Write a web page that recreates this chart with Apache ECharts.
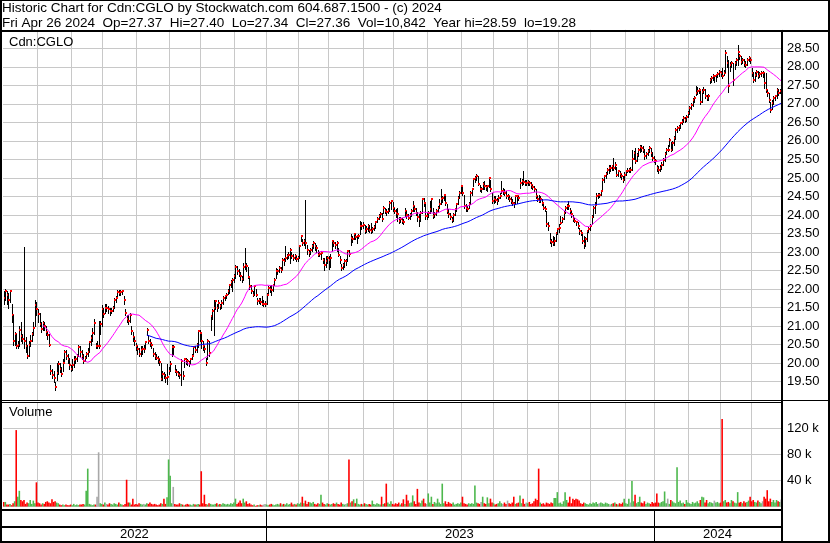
<!DOCTYPE html>
<html><head><meta charset="utf-8">
<script src="https://cdn.jsdelivr.net/npm/echarts@6/dist/echarts.min.js"></script>
<style>html,body{margin:0;padding:0;background:#fff}#c{width:830px;height:543px}</style>
</head><body><div id="c"></div>
<script>
// ---------- DATA ----------
const firstDay = '2022-04-29';
const lastDay = '2024-04-26';
const holidays = ['2022-05-23','2022-07-01','2022-08-01','2022-09-05','2022-10-10','2022-12-26','2022-12-27',
 '2023-01-02','2023-02-20','2023-04-07','2023-05-22','2023-07-03','2023-08-07','2023-09-04','2023-10-09','2023-12-25','2023-12-26',
 '2024-01-01','2024-02-19','2024-03-29'];

const closes = [
21.75,21.94,21.85,21.70,21.94,21.29,20.60,20.78,20.45,20.48,
20.90,20.72,20.65,20.60,20.45,20.20,20.50,20.60,20.80,20.96,
21.56,21.45,21.33,21.06,20.93,21.08,21.00,20.85,20.75,20.50,
19.80,19.67,19.60,19.36,19.73,19.97,19.85,19.72,20.00,20.29,
20.20,20.10,19.95,19.84,19.95,20.09,20.12,20.18,20.43,20.30,
20.20,20.06,20.15,20.25,20.29,20.57,20.69,20.81,21.08,20.45,
20.45,20.45,21.05,21.47,21.33,21.50,21.50,21.45,21.40,21.42,
21.49,21.70,21.76,21.92,21.90,21.92,21.94,21.70,21.36,21.20,
21.15,21.29,20.87,20.70,20.60,20.45,20.39,20.25,20.35,20.39,
20.39,20.57,20.90,20.60,20.55,20.48,20.25,20.20,20.15,20.10,
20.03,19.58,19.70,19.67,19.60,19.63,19.80,19.97,20.43,20.43,
19.79,19.75,19.72,19.67,20.06,19.64,20.12,20.08,20.06,20.00,
20.10,20.20,20.43,20.36,20.50,20.88,20.82,20.60,20.45,20.37,
20.00,20.60,20.28,21.27,21.40,21.50,21.67,21.49,21.62,21.55,
21.62,21.75,21.80,21.85,21.94,22.10,22.20,22.25,22.34,22.60,
22.50,22.42,22.35,22.27,22.60,22.65,22.61,22.33,22.07,21.95,
21.85,22.07,21.85,21.67,21.70,21.65,21.60,21.60,21.60,21.85,
22.03,22.00,21.98,22.10,22.25,22.48,22.50,22.57,22.52,22.79,
22.75,22.84,22.88,22.93,23.06,22.90,22.85,22.88,22.80,22.84,
23.15,23.44,23.24,23.30,23.24,23.06,22.97,23.05,23.15,23.24,
23.15,23.10,22.93,22.95,22.98,22.79,22.66,22.75,22.84,22.79,
22.85,23.29,23.24,23.20,23.24,22.93,22.79,22.57,22.65,22.75,
22.75,23.02,22.95,23.38,23.35,23.49,23.40,23.42,23.44,23.71,
23.70,23.74,23.58,23.62,23.69,23.60,23.58,23.62,23.67,23.80,
23.90,23.98,24.03,23.89,24.19,24.10,24.07,24.12,24.32,24.38,
24.20,24.11,24.05,24.02,23.84,23.90,23.84,23.81,24.11,24.00,
23.93,24.00,24.11,24.24,24.15,24.05,23.95,23.88,24.06,24.42,
24.33,23.97,23.97,24.05,24.15,24.42,23.97,24.02,24.10,24.20,
24.29,24.42,24.45,24.53,24.33,24.11,24.02,23.95,23.86,24.00,
24.15,24.29,24.45,24.60,24.78,24.60,24.24,24.20,24.15,24.29,
24.60,24.69,24.98,25.00,25.05,24.85,24.69,24.69,24.83,24.78,
24.75,24.77,25.00,24.71,24.38,24.42,24.40,24.38,24.47,24.51,
24.65,24.65,24.60,24.50,24.50,24.42,24.38,24.33,24.29,24.51,
24.50,24.47,24.87,24.92,24.90,24.87,24.87,24.90,24.87,24.80,
24.76,24.71,24.50,24.42,24.38,24.42,24.33,24.20,24.15,23.75,
23.70,23.30,23.27,23.25,23.30,23.52,23.61,23.66,23.79,23.90,
24.06,24.20,24.25,24.24,24.11,24.02,23.88,23.84,23.80,23.70,
23.57,23.52,23.30,23.21,23.34,23.57,23.62,23.69,23.95,24.19,
24.28,24.50,24.55,24.55,24.64,24.95,25.04,25.10,25.22,25.27,
25.27,25.31,25.27,25.36,25.09,25.18,25.10,25.04,24.95,25.09,
25.18,25.20,25.22,25.22,25.51,25.67,25.45,25.62,25.76,25.83,
25.80,25.76,25.58,25.65,25.72,25.80,25.67,25.55,25.49,25.45,
25.27,25.22,25.27,25.36,25.49,25.65,25.76,25.76,26.03,25.76,
25.94,26.07,26.30,26.34,26.37,26.48,26.52,26.61,26.57,26.65,
26.75,26.88,26.97,27.11,27.15,27.29,27.35,27.38,27.06,27.33,
27.38,27.20,27.15,27.20,27.65,27.69,27.74,27.74,27.78,27.80,
27.87,27.83,27.75,27.83,28.38,28.10,27.47,28.05,28.10,27.65,
28.10,28.19,28.41,28.28,28.14,28.19,28.10,28.05,28.19,28.23,
28.19,27.83,27.65,27.78,27.87,27.76,27.80,27.83,27.83,27.56,
27.38,27.29,27.11,26.84,27.02,27.15,27.20,27.38,27.30,27.36,27.36];

const highs = [
21.95,22.00,21.95,21.90,21.98,21.60,21.30,20.85,20.80,20.60,
21.00,21.10,20.80,23.13,20.70,20.50,20.60,20.75,20.85,21.10,
21.70,21.65,21.45,21.35,21.10,21.15,21.10,21.00,20.85,20.80,
19.95,19.85,19.80,19.50,20.00,20.05,20.00,19.90,20.10,20.35,
20.35,20.25,20.15,19.95,20.10,20.20,20.20,20.25,20.50,20.45,
20.35,20.25,20.20,20.30,20.40,20.60,20.75,20.95,21.20,20.55,
20.60,21.15,21.15,21.58,21.50,21.60,21.60,21.55,21.50,21.50,
21.55,21.75,21.82,21.97,21.97,21.98,21.98,21.80,21.45,21.30,
21.30,21.35,21.00,20.85,20.70,20.55,20.45,20.40,20.45,20.45,
20.50,20.60,20.95,20.75,20.65,20.55,20.40,20.30,20.25,20.20,
20.10,20.00,19.80,19.75,19.70,19.98,19.90,20.05,20.50,20.50,
19.95,19.85,19.80,19.75,20.10,19.80,20.15,20.15,20.12,20.05,
20.15,20.25,20.45,20.45,20.55,20.90,20.90,20.80,20.60,20.45,
20.15,20.65,20.60,21.30,21.45,21.70,21.70,21.60,21.70,21.60,
21.70,21.80,21.85,21.90,22.00,22.12,22.25,22.30,22.40,22.65,
22.62,22.55,22.45,22.35,22.70,23.10,22.70,22.60,22.30,22.10,
21.95,22.10,22.00,21.75,21.75,21.75,21.80,21.70,21.68,21.90,
22.07,22.08,22.12,22.15,22.30,22.57,22.55,22.62,22.60,22.85,
22.85,23.15,22.95,23.00,23.10,23.00,22.95,22.95,22.90,22.90,
23.20,23.47,23.35,23.35,24.41,23.20,23.05,23.10,23.22,23.30,
23.25,23.20,23.05,23.00,23.02,22.85,22.84,22.88,22.88,22.90,
22.95,23.33,23.30,23.28,23.30,23.10,22.90,22.68,22.70,22.80,
22.82,23.05,23.05,23.50,23.42,23.52,23.50,23.47,23.50,23.83,
23.80,23.80,23.72,23.70,23.75,23.72,23.78,23.68,23.72,23.85,
23.95,24.02,24.08,24.05,24.23,24.20,24.15,24.20,24.37,24.40,
24.35,24.20,24.15,24.20,23.95,23.95,23.92,23.88,24.20,24.12,
24.02,24.05,24.15,24.38,24.25,24.18,24.08,24.02,24.10,24.45,
24.45,24.30,24.05,24.10,24.38,24.45,24.20,24.08,24.15,24.25,
24.42,24.69,24.50,24.56,24.50,24.30,24.15,24.05,23.95,24.05,
24.20,24.33,24.50,24.65,24.82,24.75,24.55,24.30,24.25,24.35,
24.65,24.72,25.00,25.05,25.10,25.05,24.80,24.75,24.90,24.92,
24.82,24.82,25.03,24.95,24.60,24.51,24.50,24.45,24.55,24.60,
24.92,24.72,24.70,24.65,24.58,24.50,24.48,24.42,24.35,24.55,
24.55,24.52,25.00,24.98,25.18,24.95,24.95,24.95,24.92,24.88,
24.82,24.78,24.70,24.50,24.55,24.52,24.42,24.30,24.24,24.10,
23.80,23.52,23.35,23.43,23.40,23.55,23.65,23.75,23.97,23.95,
24.10,24.25,24.30,24.38,24.20,24.10,24.00,23.92,23.85,23.80,
23.65,23.60,23.50,23.43,23.40,23.60,23.68,23.75,24.00,24.23,
24.35,24.59,24.60,24.60,24.68,25.00,25.08,25.15,25.28,25.36,
25.35,25.36,25.54,25.42,25.30,25.22,25.20,25.12,25.05,25.15,
25.22,25.26,25.28,25.30,25.76,25.72,25.80,25.68,25.80,25.88,
25.88,25.85,25.78,25.70,25.78,25.85,25.82,25.70,25.58,25.52,
25.36,25.32,25.36,25.42,25.55,25.70,25.82,25.88,26.07,25.98,
26.00,26.12,26.35,26.40,26.42,26.52,26.58,26.68,26.65,26.70,
26.80,26.95,27.02,27.15,27.20,27.47,27.45,27.42,27.35,27.40,
27.45,27.40,27.25,27.28,27.69,27.74,27.80,27.78,27.82,27.86,
27.92,27.90,27.98,27.92,28.46,28.30,28.19,28.12,28.15,28.10,
28.15,28.25,28.59,28.35,28.30,28.25,28.22,28.15,28.25,28.28,
28.25,27.96,27.85,27.85,27.92,27.90,27.85,27.88,27.88,27.83,
27.83,27.38,27.29,27.06,27.10,27.20,27.25,27.42,27.40,27.40,27.40];

const lows = [
21.60,21.70,21.60,21.50,21.65,21.10,20.50,20.50,20.40,20.40,
20.45,20.60,20.55,20.40,20.30,20.15,20.20,20.45,20.60,20.75,
21.00,21.30,21.10,21.00,20.85,20.90,20.90,20.75,20.65,20.45,
19.70,19.60,19.50,19.28,19.55,19.70,19.75,19.65,19.80,20.05,
20.10,20.00,19.85,19.78,19.82,19.90,20.00,20.05,20.20,20.20,
20.10,20.00,20.05,20.15,20.20,20.30,20.50,20.60,20.80,20.40,
20.40,20.40,20.80,21.00,21.25,21.35,21.40,21.35,21.30,21.35,
21.40,21.50,21.65,21.80,21.85,21.85,21.88,21.60,21.30,21.10,
21.05,21.10,20.80,20.60,20.50,20.35,20.25,20.20,20.20,20.25,
20.30,20.40,20.75,20.55,20.45,20.40,20.20,20.12,20.10,20.00,
19.95,19.55,19.55,19.60,19.50,19.45,19.70,19.80,20.20,20.25,
19.75,19.68,19.65,19.60,19.40,19.58,19.90,19.98,19.95,19.92,
20.00,20.10,20.25,20.30,20.30,20.43,20.60,20.40,20.35,20.30,
19.95,20.10,20.20,20.90,21.20,20.77,21.45,21.40,21.50,21.45,
21.50,21.60,21.70,21.75,21.88,21.90,22.05,21.95,22.20,22.30,
22.40,22.35,22.25,22.20,22.25,22.55,22.50,22.30,22.00,21.90,
21.80,21.85,21.80,21.60,21.62,21.60,21.58,21.55,21.55,21.60,
21.90,21.92,21.85,21.95,22.10,22.30,22.40,22.45,22.45,22.55,
22.65,22.75,22.80,22.85,22.70,22.85,22.78,22.80,22.75,22.75,
22.85,23.30,23.20,23.20,23.10,22.95,22.90,22.95,23.02,23.10,
23.05,23.00,22.88,22.88,22.80,22.70,22.52,22.60,22.70,22.55,
22.60,23.02,23.15,23.10,23.02,22.88,22.70,22.52,22.55,22.60,
22.65,22.75,22.90,23.20,23.28,23.35,23.35,23.24,23.38,23.50,
23.62,23.65,23.52,23.55,23.58,23.55,23.51,23.55,23.60,23.65,
23.80,23.88,23.95,23.85,24.05,24.05,24.00,24.05,24.10,24.15,
24.10,24.05,23.95,23.84,23.78,23.80,23.78,23.75,23.97,23.92,
23.88,23.90,23.98,24.11,24.10,24.00,23.85,23.70,23.85,24.05,
24.25,23.90,23.88,23.95,24.05,24.12,23.92,23.95,24.00,24.10,
24.20,24.29,24.35,24.40,24.28,24.05,23.95,23.88,23.82,23.85,
24.00,24.11,24.30,24.45,24.60,24.55,24.20,24.12,24.10,24.20,
24.30,24.55,24.78,24.90,24.95,24.80,24.65,24.62,24.70,24.69,
24.68,24.65,24.75,24.65,24.33,24.33,24.35,24.30,24.38,24.45,
24.60,24.58,24.55,24.45,24.42,24.38,24.32,24.28,24.22,24.33,
24.33,24.40,24.74,24.82,24.85,24.82,24.80,24.82,24.80,24.72,
24.70,24.65,24.45,24.38,24.35,24.35,24.28,24.15,24.11,23.70,
23.60,23.25,23.15,23.20,23.20,23.30,23.50,23.55,23.75,23.80,
23.90,24.05,24.15,24.15,24.05,23.95,23.85,23.80,23.72,23.65,
23.50,23.45,23.25,23.10,23.16,23.30,23.55,23.60,23.75,23.95,
24.05,24.30,24.46,24.48,24.55,24.70,24.90,25.00,25.10,25.13,
25.20,25.22,25.22,25.25,25.05,25.05,25.02,24.98,24.88,24.95,
25.08,25.15,25.16,25.15,25.22,25.50,25.40,25.45,25.60,25.70,
25.72,25.70,25.52,25.55,25.62,25.70,25.60,25.48,25.42,25.38,
25.18,25.13,25.18,25.25,25.35,25.45,25.65,25.72,25.85,25.72,
25.75,25.90,26.05,26.25,26.30,26.35,26.45,26.50,26.50,26.55,
26.65,26.72,26.85,26.95,27.05,27.24,27.28,27.30,27.00,27.05,
27.30,27.15,27.10,27.10,27.56,27.60,27.65,27.60,27.62,27.72,
27.74,27.76,27.70,27.78,27.87,28.00,27.33,27.90,28.00,27.51,
27.95,28.05,28.05,28.20,28.08,28.10,28.02,28.00,28.05,28.15,
28.10,27.74,27.60,27.62,27.75,27.70,27.72,27.76,27.72,27.42,
27.33,27.20,27.06,26.79,26.85,27.00,27.10,27.15,27.25,27.30,27.34];

// volume in thousands of shares
const volumes = [
7,7,3,3,4,2,5,8,117,15,
24,10,8,10,4,6,5,10,4,9,
5,37,6,5,3,5,4,7,8,6,
5,11,7,8,6,5,3,2,3,2,
3,2,2,3,2,4,2,3,2,3,
3,4,3,24,58,4,3,2,3,3,
15,83,5,4,3,6,4,3,5,4,
3,5,4,3,6,4,3,2,4,41,
6,6,3,12,3,4,3,5,4,3,
4,3,5,4,6,4,3,4,3,2,
3,5,4,12,4,14,72,47,5,30,
4,3,3,5,4,3,2,3,4,3,
3,2,4,3,3,4,3,54,5,18,
4,3,5,4,3,3,4,5,3,4,
3,5,4,3,4,3,5,4,6,12,
4,6,9,5,12,6,8,4,5,3,
2,3,1,2,2,3,2,3,4,3,
2,3,4,3,2,3,4,3,5,3,
4,3,5,3,4,6,3,4,3,5,
4,6,15,5,9,4,7,6,5,7,
4,3,5,4,18,6,4,3,5,4,
3,4,5,4,6,4,3,6,4,3,
4,5,72,6,8,11,5,12,4,3,
4,3,5,4,3,4,3,9,4,3,
5,4,3,15,4,5,35,6,4,8,
4,3,5,4,6,3,5,11,4,18,
9,5,6,17,8,4,27,6,5,9,
12,5,4,20,6,15,4,7,5,12,
6,4,35,5,8,4,7,5,4,6,
3,4,5,4,6,15,5,4,3,5,
4,5,4,32,6,5,4,7,15,5,
4,14,5,12,6,5,3,4,5,8,
5,4,6,4,9,5,4,6,15,4,
5,6,17,5,12,4,6,5,7,4,
5,8,12,10,58,6,4,5,3,6,
5,4,6,5,13,13,22,5,6,4,
8,22,10,6,15,5,12,10,12,11,
9,5,4,6,5,4,3,5,4,6,
5,7,4,5,6,5,4,6,5,4,
3,4,5,6,4,3,5,4,6,12,
5,4,12,6,39,8,18,5,7,15,
6,5,8,4,6,5,4,7,5,6,
20,6,5,7,8,23,5,12,4,10,
8,6,5,60,7,9,5,6,4,10,
6,5,4,7,5,6,8,5,10,15,
14,6,10,5,7,6,5,9,6,7,
5,6,134,8,10,6,7,5,10,8,
6,5,22,6,7,5,8,6,7,9,
15,8,10,7,6,9,7,5,8,15,
12,25,8,12,7,10,6,10,8,7,10.842];

const headerLine1 = 'Historic Chart for Cdn:CGLO by Stockwatch.com 604.687.1500 - (c) 2024';
const headerLine2 = 'Fri Apr 26 2024  Op=27.37  Hi=27.40  Lo=27.34  Cl=27.36  Vol=10,842  Year hi=28.59  lo=19.28';
const symbolLabel = 'Cdn:CGLO';
const volumeLabel = 'Volume';
const fastMA = 26, slowMA = 93;

// ---------- BUILD ----------
function buildDates(){
  const out = [];
  const d = new Date(firstDay + 'T00:00:00Z');
  const end = new Date(lastDay + 'T00:00:00Z').getTime();
  while (d.getTime() <= end) {
    const wd = d.getUTCDay();
    const s = d.toISOString().slice(0,10);
    if (wd !== 0 && wd !== 6 && holidays.indexOf(s) < 0) out.push(s);
    d.setUTCDate(d.getUTCDate() + 1);
  }
  return out;
}
const dates = buildDates();
const n = closes.length;
while (dates.length < n) dates.push('');
dates.length = n;

const monthStart = new Set(), yearStart = new Set();
for (let i = 1; i < n; i++) {
  if (dates[i].slice(0,7) !== dates[i-1].slice(0,7) && i > 3) monthStart.add(i);
  if (dates[i].slice(0,4) !== dates[i-1].slice(0,4)) yearStart.add(i);
}
const yearMid = new Map();
{
  let s = 0;
  for (let i = 1; i <= n; i++) {
    if (i === n || dates[i].slice(0,4) !== dates[i-1].slice(0,4)) {
      yearMid.set(Math.floor((s + i - 1) / 2), dates[s].slice(0,4));
      s = i;
    }
  }
}

function sma(arr, len){
  return arr.map((v, i) => {
    if (i < len - 1) return null;
    let t = 0; for (let k = i - len + 1; k <= i; k++) t += arr[k];
    return +(t / len).toFixed(4);
  });
}

const ohlc = closes.map((c, i) => [i, highs[i], lows[i], c]);
const RED = '#ff0000', GREEN = '#4db84d', GRAY = '#a8a8a8';
const volData = volumes.map((v, i) => {
  let col = RED;
  if (i > 0) col = closes[i] > closes[i-1] ? GREEN : (closes[i] < closes[i-1] ? RED : GRAY);
  return { value: v, itemStyle: { color: col } };
});

const FONT = '"Liberation Sans", Arial, sans-serif';
const GRIDC = '#c8c8c8';

const chart = echarts.init(document.getElementById('c'), null, { renderer: 'canvas' });
const L = 3, R = 48;

const frame = [
  [0, 0, 830, 1], [0, 0, 2, 543], [828, 0, 2, 543], [0, 541, 830, 2],
  [0, 30, 830, 2], [781, 30, 2, 513],
  [0, 400, 830, 1], [0, 402, 781, 1],
  [0, 509, 781, 2], [0, 526, 781, 2]
].map(r => ({ type: 'rect', shape: { x: r[0], y: r[1], width: r[2], height: r[3] }, style: { fill: '#000' }, z: 100, silent: true }));

const tStyle = { fontFamily: FONT, fontSize: 13, fontWeight: 'normal', color: '#000' };
const hStyle = { fontFamily: FONT, fontSize: 13.5, fontWeight: 'normal', color: '#000' };

chart.setOption({
  animation: false,
  backgroundColor: '#fff',
  textStyle: { fontFamily: FONT },
  title: [
    { text: headerLine1, left: 2, top: 1.5, padding: 0, textStyle: hStyle },
    { text: headerLine2, left: 2, top: 16, padding: 0, textStyle: hStyle },
    { text: symbolLabel, left: 9, top: 35.5, padding: 0, textStyle: tStyle },
    { text: volumeLabel, left: 9, top: 406, padding: 0, textStyle: tStyle }
  ],
  grid: [
    { left: L, right: R, top: 29.8, height: 370.4 },
    { left: L, right: R, top: 402, height: 104.5 },
    { left: L, right: R, top: 511, height: 30 }
  ],
  xAxis: [0, 1, 2].map(k => ({
    type: 'category', gridIndex: k, data: dates, boundaryGap: true,
    axisLine: { show: false }, axisTick: { show: false },
    axisLabel: k < 2 ? { show: false } : {
      show: true, inside: true, margin: 6.5, verticalAlign: 'middle',
      interval: (idx) => yearMid.has(idx),
      formatter: (val, idx) => yearMid.get(idx) || '',
      fontFamily: FONT, fontSize: 13, color: '#000'
    },
    splitLine: k < 2
      ? { show: true, interval: (idx) => monthStart.has(idx), lineStyle: { color: GRIDC, width: 1 } }
      : { show: true, interval: (idx) => yearStart.has(idx), lineStyle: { color: '#000', width: 1 } }
  })),
  yAxis: [
    { type: 'value', gridIndex: 0, position: 'right', min: 19, max: 29, interval: 0.5,
      axisLine: { show: false }, axisTick: { show: false },
      axisLabel: { margin: 5, showMinLabel: false, showMaxLabel: false, formatter: v => v.toFixed(2), fontFamily: FONT, fontSize: 13, color: '#000' },
      splitLine: { show: true, lineStyle: { color: GRIDC, width: 1 } } },
    { type: 'value', gridIndex: 1, position: 'right', min: 0, max: 160, interval: 40,
      axisLine: { show: false }, axisTick: { show: false },
      axisLabel: { margin: 5, showMinLabel: false, showMaxLabel: false, formatter: v => v + ' k', fontFamily: FONT, fontSize: 13, color: '#000' },
      splitLine: { show: true, lineStyle: { color: GRIDC, width: 1 } } },
    { type: 'value', gridIndex: 2, show: false, min: 0, max: 1 }
  ],
  series: [
    { type: 'custom', name: 'price', xAxisIndex: 0, yAxisIndex: 0, data: ohlc, z: 3,
      encode: { x: 0, y: [1, 2, 3] },
      renderItem: (params, api) => {
        const idx = api.value(0);
        const hi = api.coord([idx, api.value(1)]);
        const lo = api.coord([idx, api.value(2)]);
        const cl = api.coord([idx, api.value(3)]);
        const x = Math.round(hi[0]) + 0.5;
        return { type: 'group', children: [
          { type: 'line', shape: { x1: x, y1: Math.round(hi[1]), x2: x, y2: Math.round(lo[1]) + 1 }, style: { stroke: '#000', lineWidth: 1 } },
          { type: 'rect', shape: { x: x - 0.5, y: Math.round(cl[1]) - 1, width: 2, height: 2 }, style: { fill: RED } }
        ]};
      }
    },
    { type: 'line', name: 'MA fast', xAxisIndex: 0, yAxisIndex: 0, data: sma(closes, fastMA), showSymbol: false, z: 5,
      lineStyle: { color: '#ff00ff', width: 1 }, itemStyle: { color: '#ff00ff' } },
    { type: 'line', name: 'MA slow', xAxisIndex: 0, yAxisIndex: 0, data: sma(closes, slowMA), showSymbol: false, z: 5,
      lineStyle: { color: '#0000ff', width: 1 }, itemStyle: { color: '#0000ff' } },
    { type: 'bar', name: 'Volume', xAxisIndex: 1, yAxisIndex: 1, data: volData, barWidth: 1.6 }
  ],
  graphic: frame
});
</script></body></html>
